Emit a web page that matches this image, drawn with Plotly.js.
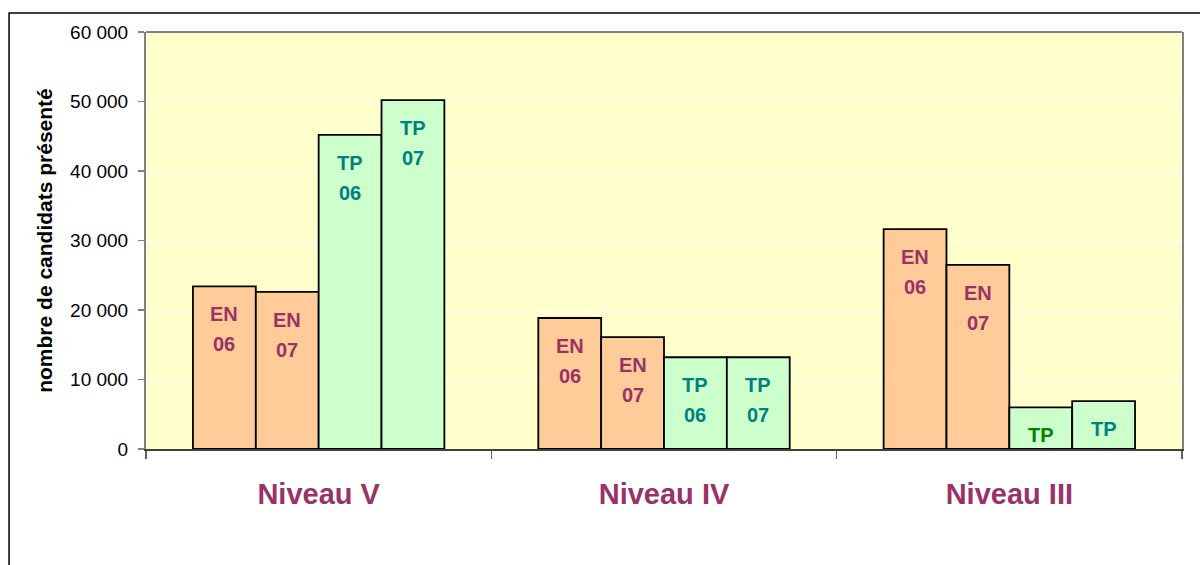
<!DOCTYPE html>
<html>
<head>
<meta charset="utf-8">
<script src="https://cdn.plot.ly/plotly-3.0.1.min.js"></script>
<style>html,body{margin:0;padding:0;background:#fff;}#chart{width:1200px;height:565px;}</style>
</head>
<body>
<div id="chart"></div>
<script>
// ---- data ----
const categories = ["Niveau V", "Niveau IV", "Niveau III"];
const seriesNames = ["EN 06", "EN 07", "TP 06", "TP 07"];
const en06 = [23400, 18850, 31650];
const en07 = [22600, 16100, 26500];
const tp06 = [45200, 13200, 6000];
const tp07 = [50200, 13200, 6900];
const yTicks = [0, 10000, 20000, 30000, 40000, 50000, 60000];
// in-bar labels (first line / second line)
const labelLine1 = [["EN","EN","EN"], ["EN","EN","EN"], ["TP","TP","TP"], ["TP","TP","TP"]];
const labelLine2 = [["06","06","06"], ["07","07","07"], ["06","06",""], ["07","07",""]];

// ---- styles ----
const FONT = "Arial, 'Liberation Sans', sans-serif";
const series = [en06, en07, tp06, tp07];
const fills = ["#FFCC99", "#FFCC99", "#CCFFCC", "#CCFFCC"];
const labelColors = [
  ["#993366","#993366","#993366"],
  ["#993366","#993366","#993366"],
  ["#008080","#008080","#008000"],
  ["#008080","#008080","#008080"]
];
const barW = 0.182;
const offsets = [-0.364, -0.182, 0, 0.182];

const traces = series.map((vals, k) => ({
  type: "bar",
  name: seriesNames[k],
  x: categories,
  y: vals,
  width: barW,
  offset: offsets[k],
  marker: {color: fills[k], line: {color: "#000", width: 1.8}},
  hoverinfo: "x+y",
  showlegend: false
}));

const annotations = [];
series.forEach((vals, k) => {
  vals.forEach((v, i) => {
    const xc = i + offsets[k] + barW / 2;
    [labelLine1[k][i], labelLine2[k][i]].forEach((t, j) => {
      if (!t) return;
      annotations.push({
        xref: "x", yref: "y", x: xc, y: v,
        yshift: -28 - 30 * j, yanchor: "middle",
        text: "<b>" + t + "</b>", showarrow: false,
        font: {family: FONT, size: 20, color: labelColors[k][i]}
      });
    });
  });
});

const layout = {
  width: 1200, height: 565,
  margin: {l: 146, r: 18, t: 32, b: 116},
  paper_bgcolor: "#fff",
  plot_bgcolor: "#FFFFCC",
  separators: ", ",
  barmode: "overlay",
  font: {family: FONT, color: "#000"},
  xaxis: {
    type: "category",
    tickson: "boundaries",
    ticks: "outside", ticklen: 8, tickwidth: 1.5, tickcolor: "#606060",
    showline: true, linecolor: "#404040", linewidth: 2,
    showgrid: false, zeroline: false,
    ticklabelstandoff: 18,
    tickfont: {family: FONT, size: 29, color: "#993366", weight: "bold"}
  },
  yaxis: {
    range: [0, 60000],
    tickvals: yTicks,
    tickformat: ",d",
    ticks: "outside", ticklen: 6, tickwidth: 1.5, tickcolor: "#808080",
    showline: true, linecolor: "#808080", linewidth: 2, mirror: true,
    showgrid: true, gridcolor: "#FFFFFF", gridwidth: 1,
    zeroline: false,
    ticklabelstandoff: 6,
    tickfont: {family: FONT, size: 19, color: "#000"},
    title: {text: "<b>nombre de candidats présenté</b>", font: {family: FONT, size: 21, color: "#000"}, standoff: 12}
  },
  shapes: [
    {type: "line", xref: "paper", yref: "paper", x0: 0, x1: 1, y0: 1, y1: 1, line: {color: "#808080", width: 2}},
    {type: "rect", xref: "paper", yref: "paper", x0: -0.1322, x1: 1.03, y0: -0.3, y1: 1.0456, line: {color: "#000", width: 1.5}, fillcolor: "rgba(0,0,0,0)", layer: "below"}
  ],
  annotations: annotations
};

Plotly.newPlot("chart", traces, layout, {displayModeBar: false, staticPlot: true});
</script>
</body>
</html>
